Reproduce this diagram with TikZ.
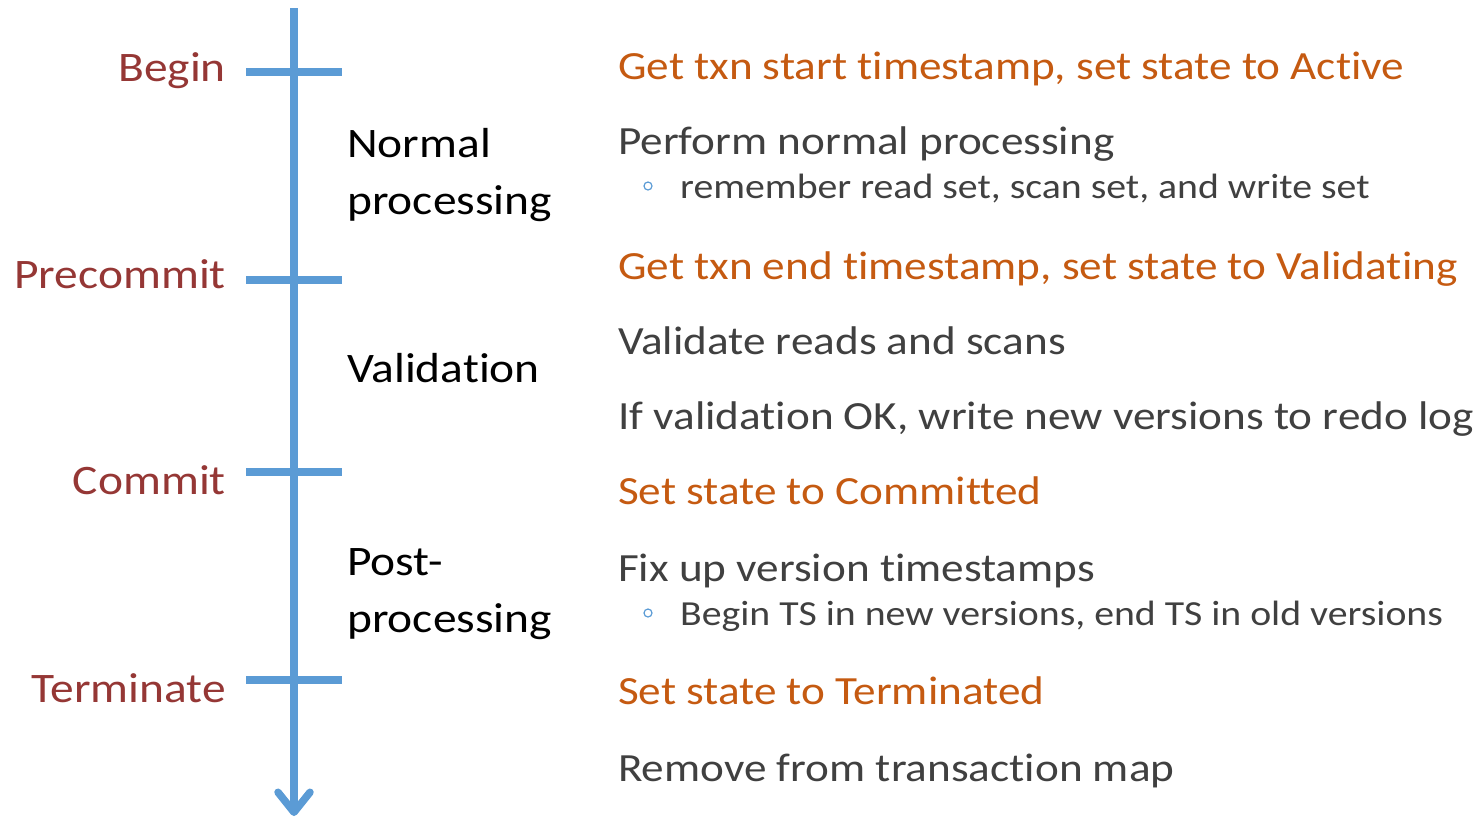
\documentclass[tikz,border=0pt]{standalone}
\usepackage{fontspec}
\setmainfont{Carlito}[Ligatures=NoCommon]
\newfontfamily\slidefont{Carlito}[FakeStretch=1.13,Ligatures=NoCommon]
\usetikzlibrary{arrows.meta}

\definecolor{axisblue}{HTML}{5B9BD5}
\definecolor{phasered}{HTML}{953735}
\definecolor{stateorange}{HTML}{C55A11}
\definecolor{textgray}{HTML}{404040}

\tikzset{
  phase/.style={anchor=base east,inner sep=0pt,text=phasered,font=\slidefont\fontsize{42}{48}\selectfont},
  stage/.style={anchor=base west,inner sep=0pt,text=black,font=\slidefont\fontsize{42}{48}\selectfont},
  statetxt/.style={anchor=base west,inner sep=0pt,text=stateorange,font=\slidefont\fontsize{40}{48}\selectfont},
  worktxt/.style={anchor=base west,inner sep=0pt,text=textgray,font=\slidefont\fontsize{40}{48}\selectfont},
  subtxt/.style={anchor=base west,inner sep=0pt,text=textgray,font=\slidefont\fontsize{35.2}{40}\selectfont},
  subdot/.style={circle,draw=axisblue,line width=1.2pt,inner sep=0pt,minimum size=8pt},
  tick/.style={draw=axisblue,line width=7.5pt}
}

\begin{document}
\begin{tikzpicture}[x=1pt,y=-1pt]
  \useasboundingbox (0,0) rectangle (1481,820);

  % time axis
  \coordinate (top) at (294,8);
  \coordinate (bottom) at (294,816);
  \draw[axisblue,line width=7.5pt,
        -{Straight Barb[length=20pt,width=32pt,line cap=round,line join=round]}]
        (top) -- (bottom);

  % ticks and phase names
  \foreach \name/\txt/\y/\b in {begin/Begin/72/81,precommit/Precommit/280/288,
                                commit/Commit/472/494,terminate/Terminate/680/702}{
    \coordinate (\name-l) at (246,\y);
    \coordinate (\name-r) at (342,\y);
    \draw[tick] (\name-l) -- (\name-r);
    \node[phase] (\name) at (226,\b) {\txt};
  }

  % stages between the ticks
  \node[stage] (normal1) at (347,157) {Normal};
  \node[stage] (normal2) at (347,214) {processing};
  \node[stage] (valid) at (347,382) {Validation};
  \node[stage] (post1) at (347,575) {Post-};
  \node[stage] (post2) at (347,632) {processing};

  % what happens
  \node[statetxt] (s1) at (618,79) {Get txn start timestamp, set state to Active};
  \node[worktxt] (w1) at (618,154) {Perform normal processing};
  \node[subdot] (d1) at (648,186) {};
  \node[subtxt] (w1a) at (680,198) {remember read set, scan set, and write set};
  \node[statetxt] (s2) at (618,279) {Get txn end timestamp, set state to Validating};
  \node[worktxt] (w2) at (618,354) {Validate reads and scans};
  \node[worktxt] (w3) at (618,429) {If validation OK, write new versions to redo log};
  \node[statetxt] (s3) at (618,504) {Set state to Committed};
  \node[worktxt] (w4) at (618,581) {Fix up version timestamps};
  \node[subdot] (d2) at (648,613) {};
  \node[subtxt] (w4a) at (680,625) {Begin TS in new versions, end TS in old versions};
  \node[statetxt] (s4) at (618,704) {Set state to Terminated};
  \node[worktxt] (w5) at (618,781) {Remove from transaction map};

\end{tikzpicture}
\end{document}
